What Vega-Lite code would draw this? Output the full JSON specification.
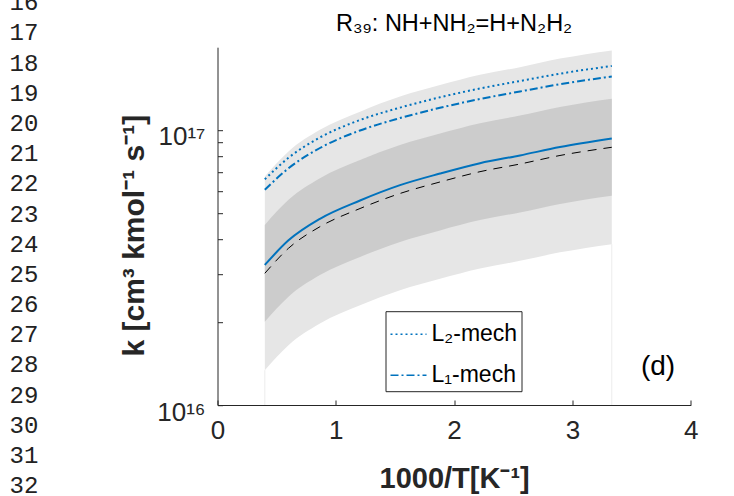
{
  "$schema": "https://vega.github.io/schema/vega-lite/v6.json",
  "width": 473.2,
  "height": 357.8,
  "autosize": {"type": "none"},
  "padding": {"left": 217.5, "top": 47.2, "right": 43.3, "bottom": 91},
  "background": "white",
  "config": {
    "view": {"stroke": null},
    "font": "Liberation Sans",
    "axis": {"grid": false}
  },
  "title": {
    "text": "R₃₉: NH+NH₂=H+N₂H₂",
    "fontSize": 23.5,
    "fontWeight": "normal",
    "font": "Liberation Sans",
    "color": "black",
    "anchor": "middle",
    "baseline": "alphabetic",
    "offset": -63
  },
  "datasets": {
    "band": [
      {"x": 0.4, "nom": 3.012e16, "sol": 3.230e16, "hi1": 4.518e16, "lo1": 2.008e16, "hi2": 6.777e16, "lo2": 1.3387e16},
      {"x": 0.6, "nom": 3.714e16, "sol": 3.970e16, "hi1": 5.571e16, "lo1": 2.476e16, "hi2": 8.357e16, "lo2": 1.6507e16},
      {"x": 0.866, "nom": 4.450e16, "sol": 4.755e16, "hi1": 6.675e16, "lo1": 2.967e16, "hi2": 10.013e16, "lo2": 1.9778e16},
      {"x": 1.205, "nom": 5.182e16, "sol": 5.541e16, "hi1": 7.773e16, "lo1": 3.455e16, "hi2": 11.660e16, "lo2": 2.3031e16},
      {"x": 1.543, "nom": 5.877e16, "sol": 6.300e16, "hi1": 8.816e16, "lo1": 3.918e16, "hi2": 13.223e16, "lo2": 2.6120e16},
      {"x": 1.881, "nom": 6.471e16, "sol": 6.943e16, "hi1": 9.707e16, "lo1": 4.314e16, "hi2": 14.560e16, "lo2": 2.8760e16},
      {"x": 2.219, "nom": 7.053e16, "sol": 7.573e16, "hi1": 10.580e16, "lo1": 4.702e16, "hi2": 15.869e16, "lo2": 3.1347e16},
      {"x": 2.557, "nom": 7.521e16, "sol": 8.083e16, "hi1": 11.282e16, "lo1": 5.014e16, "hi2": 16.922e16, "lo2": 3.3427e16},
      {"x": 2.895, "nom": 8.078e16, "sol": 8.665e16, "hi1": 12.117e16, "lo1": 5.385e16, "hi2": 18.176e16, "lo2": 3.5902e16},
      {"x": 3.333, "nom": 8.652e16, "sol": 9.313e16, "hi1": 12.978e16, "lo1": 5.768e16, "hi2": 19.467e16, "lo2": 3.8453e16}
    ],
    "mech": [
      {"series": "L₂-mech", "x": 0.4, "k": 6.618e16},
      {"series": "L₂-mech", "x": 0.6, "k": 7.924e16},
      {"series": "L₂-mech", "x": 0.866, "k": 9.391e16},
      {"series": "L₂-mech", "x": 1.205, "k": 10.873e16},
      {"series": "L₂-mech", "x": 1.543, "k": 12.061e16},
      {"series": "L₂-mech", "x": 1.881, "k": 13.15e16},
      {"series": "L₂-mech", "x": 2.219, "k": 14.156e16},
      {"series": "L₂-mech", "x": 2.557, "k": 15.07e16},
      {"series": "L₂-mech", "x": 2.895, "k": 16.022e16},
      {"series": "L₂-mech", "x": 3.333, "k": 17.09e16},
      {"series": "L₁-mech", "x": 0.4, "k": 6.059e16},
      {"series": "L₁-mech", "x": 0.6, "k": 7.257e16},
      {"series": "L₁-mech", "x": 0.866, "k": 8.600e16},
      {"series": "L₁-mech", "x": 1.205, "k": 9.958e16},
      {"series": "L₁-mech", "x": 1.543, "k": 11.049e16},
      {"series": "L₁-mech", "x": 1.881, "k": 12.040e16},
      {"series": "L₁-mech", "x": 2.219, "k": 12.964e16},
      {"series": "L₁-mech", "x": 2.557, "k": 13.804e16},
      {"series": "L₁-mech", "x": 2.895, "k": 14.670e16},
      {"series": "L₁-mech", "x": 3.333, "k": 15.650e16}
    ],
    "note": [{"label": "(d)", "x": 3.724, "k": 1.375e16}],
    "nums": [
      {"n": 16}, {"n": 17}, {"n": 18}, {"n": 19}, {"n": 20}, {"n": 21}, {"n": 22}, {"n": 23}, {"n": 24},
      {"n": 25}, {"n": 26}, {"n": 27}, {"n": 28}, {"n": 29}, {"n": 30}, {"n": 31}, {"n": 32}
    ]
  },
  "layer": [
    {
      "encoding": {
        "x": {
          "field": "x",
          "type": "quantitative",
          "scale": {"domain": [0, 4], "nice": false, "zero": false},
          "axis": {
            "title": "1000/T[K⁻¹]",
            "titleFontSize": 29,
            "titleFontWeight": "bold",
            "titleColor": "#262626",
            "titleFont": "Liberation Sans",
            "titleBaseline": "alphabetic",
            "titleY": 82,
            "values": [0, 1, 2, 3, 4],
            "format": "d",
            "labelFontSize": 26,
            "labelColor": "#262626",
            "labelPadding": 17,
            "labelBaseline": "top",
            "tickSize": -5,
            "tickColor": "#262626",
            "domainColor": "#262626",
            "labelFlush": false,
            "labelOverlap": false
          }
        }
      },
      "layer": [
        {
          "data": {"name": "band"},
          "mark": {"type": "area", "color": "#e6e6e6", "interpolate": "monotone"},
          "encoding": {
            "y": {
              "field": "hi2",
              "type": "quantitative",
              "scale": {"type": "log", "domain": [1e16, 2e17], "nice": false},
              "axis": {
                "title": "k [cm³ kmol⁻¹ s⁻¹]",
                "titleFontSize": 30,
                "titleFontWeight": "bold",
                "titleColor": "#262626",
                "titleFont": "Liberation Sans",
                "titleBaseline": "alphabetic",
                "titleX": -74.5,
                "titleY": 188,
                "titleAngle": -90,
                "values": [1e16, 2e16, 3e16, 4e16, 5e16, 6e16, 7e16, 8e16, 9e16, 1e17],
                "labelExpr": "datum.value == 1e16 ? '10¹⁶' : (datum.value == 1e17 ? '10¹⁷' : '')",
                "labelFontSize": 26,
                "labelColor": "#262626",
                "labelPadding": 17.5,
                "labelOffset": 7,
                "labelOverlap": false,
                "labelFlush": false,
                "tickSize": -5,
                "tickColor": "#262626",
                "domainColor": "#262626"
              }
            },
            "y2": {"field": "lo2"}
          }
        },
        {
          "data": {"name": "band"},
          "mark": {"type": "area", "color": "#cccccc", "interpolate": "monotone"},
          "encoding": {
            "y": {"field": "hi1", "type": "quantitative", "title": "k [cm³ kmol⁻¹ s⁻¹]"},
            "y2": {"field": "lo1"}
          }
        },
        {
          "data": {"name": "band"},
          "transform": [{"filter": "datum.x < 0.5 || datum.x > 3.3"}],
          "mark": {"type": "rule", "color": "#ececec", "strokeWidth": 1},
          "encoding": {
            "y": {"field": "lo2", "type": "quantitative", "title": "k [cm³ kmol⁻¹ s⁻¹]"},
            "y2": {"datum": 1e16}
          }
        },
        {
          "data": {"name": "band"},
          "mark": {"type": "line", "color": "black", "strokeWidth": 1, "strokeDash": [9, 7], "interpolate": "monotone"},
          "encoding": {
            "y": {"field": "nom", "type": "quantitative", "title": "k [cm³ kmol⁻¹ s⁻¹]"}
          }
        },
        {
          "data": {"name": "band"},
          "mark": {"type": "line", "color": "#0072bd", "strokeWidth": 2, "interpolate": "monotone"},
          "encoding": {
            "y": {"field": "sol", "type": "quantitative", "title": "k [cm³ kmol⁻¹ s⁻¹]"}
          }
        },
        {
          "data": {"name": "mech"},
          "mark": {"type": "line", "strokeWidth": 2, "interpolate": "monotone"},
          "encoding": {
            "y": {"field": "k", "type": "quantitative", "title": "k [cm³ kmol⁻¹ s⁻¹]"},
            "color": {
              "field": "series",
              "type": "nominal",
              "scale": {"domain": ["L₂-mech", "L₁-mech"], "range": ["#0072bd", "#0072bd"]},
              "legend": {
                "orient": "none", "legendX": 168, "legendY": 264, "title": null,
                "strokeColor": "#262626", "fillColor": "white", "padding": 4,
                "labelFont": "Liberation Sans", "labelFontSize": 23, "labelColor": "black",
                "symbolSize": 1296, "symbolStrokeWidth": 1.5, "symbolType": "stroke",
                "rowPadding": 10, "labelOffset": 4, "labelLimit": 300
              }
            },
            "strokeDash": {
              "field": "series",
              "type": "nominal",
              "scale": {"domain": ["L₂-mech", "L₁-mech"], "range": [[2, 3], [8, 3, 2, 3]]},
              "legend": {
                "orient": "none", "legendX": 168, "legendY": 264, "title": null,
                "strokeColor": "#262626", "fillColor": "white", "padding": 4,
                "labelFont": "Liberation Sans", "labelFontSize": 23, "labelColor": "black",
                "symbolSize": 1296, "symbolStrokeWidth": 1.5, "symbolType": "stroke",
                "rowPadding": 10, "labelOffset": 4, "labelLimit": 300
              }
            }
          }
        },
        {
          "data": {"name": "note"},
          "mark": {"type": "text", "fontSize": 28, "color": "black", "align": "center", "baseline": "middle", "font": "Liberation Sans"},
          "encoding": {
            "y": {"field": "k", "type": "quantitative", "title": "k [cm³ kmol⁻¹ s⁻¹]"},
            "text": {"field": "label"}
          }
        }
      ]
    },
    {
      "data": {"name": "nums"},
      "mark": {"type": "text", "font": "Liberation Mono", "fontSize": 24, "color": "#222222", "align": "center", "baseline": "middle"},
      "encoding": {
        "x": {"datum": -1.636, "type": "quantitative", "scale": {"domain": [0, 4], "nice": false, "zero": false}},
        "y": {
          "field": "n",
          "type": "quantitative",
          "scale": {"domain": [17.454, 29.31], "reverse": true, "nice": false, "zero": false},
          "axis": null
        },
        "text": {"field": "n", "type": "quantitative", "format": "d"}
      }
    }
  ],
  "resolve": {"scale": {"y": "independent"}}
}
